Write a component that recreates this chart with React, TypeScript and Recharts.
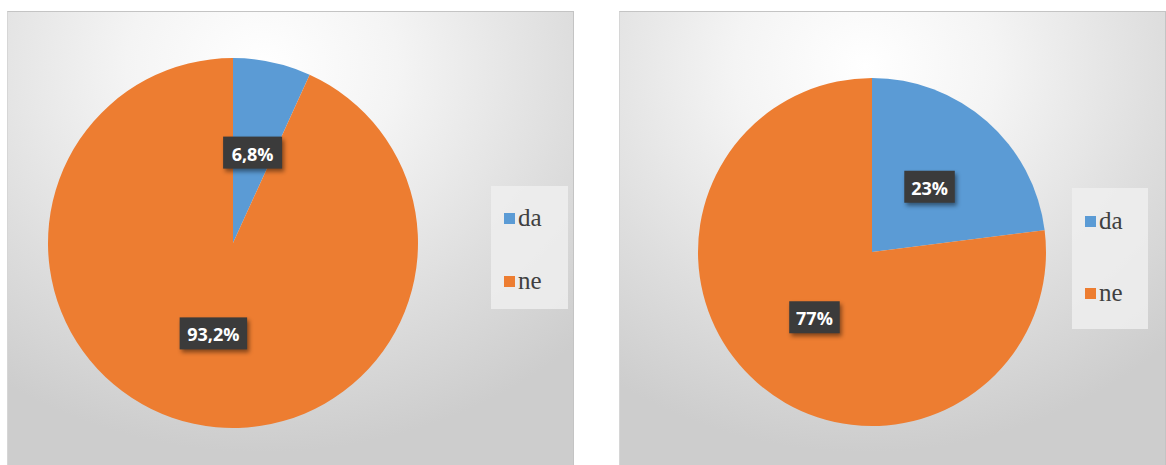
import { PieChart, Pie, Cell, Legend } from "recharts";

const categories = ["da", "ne"];
const leftValues = [6.8, 93.2];
const rightValues = [23, 77];
const colors = ["#5B9BD5", "#ED7D31"];

const leftData = categories.map((name, i) => ({ name, value: leftValues[i] }));
const rightData = categories.map((name, i) => ({ name, value: rightValues[i] }));

const RADIAN = Math.PI / 180;

function fmt(v: number) {
  return String(v).replace(".", ",") + "%";
}

function renderLabel(props: any) {
  const { cx, cy, midAngle, outerRadius, value } = props;
  const r = outerRadius * 0.5;
  const x = cx + r * Math.cos(-midAngle * RADIAN);
  const y = cy + r * Math.sin(-midAngle * RADIAN);
  const text = fmt(value);
  const w = text.length * 8.5 + 25;
  const h = 32;
  return (
    <g>
      <rect
        x={x - w / 2}
        y={y - h / 2}
        width={w}
        height={h}
        fill="#3b3b3b"
        style={{ filter: "drop-shadow(2px 3px 2px rgba(0,0,0,0.45))" }}
      />
      <text
        x={x}
        y={y + 1}
        fill="#ffffff"
        textAnchor="middle"
        dominantBaseline="central"
        fontFamily="'Open Sans', sans-serif"
        fontWeight="bold"
        fontSize={18}
      >
        {text}
      </text>
    </g>
  );
}

function makeLegend(width: number, height: number, top: number, gap: number) {
  return (props: any) => {
    const payload = props.payload || [];
    return (
      <div
        style={{
          width,
          height,
          background: "rgba(238,238,238,0.85)",
          position: "relative",
        }}
      >
        {payload.map((p: any, i: number) => (
          <div
            key={p.value}
            style={{
              position: "absolute",
              left: 13,
              top: top + i * gap - 17,
              display: "flex",
              alignItems: "center",
              fontFamily: "'Liberation Serif', serif",
              fontSize: 25,
              lineHeight: "34px",
              color: "#404040",
            }}
          >
            <span
              style={{
                display: "inline-block",
                width: 11,
                height: 11,
                background: p.color,
                marginRight: 3,
              }}
            />
            <span>{p.value}</span>
          </div>
        ))}
      </div>
    );
  };
}

const panelBg =
  "radial-gradient(ellipse 80% 85% at 45% 12%, #ffffff 0%, #f4f4f4 30%, #dedede 68%, #cdcdcd 100%)";

export default function App() {
  return (
    <div style={{ position: "absolute", left: 0, top: 0, width: 1166, height: 465, background: "#fff" }}>
      <div
        style={{
          position: "absolute",
          left: 7,
          top: 11,
          width: 565,
          height: 454,
          background: panelBg,
          borderTop: "1px solid #c4c4c4",
          borderLeft: "1px solid #d6d6d6",
          borderRight: "1px solid #c4c4c4",
        }}
      >
        <PieChart width={565} height={454}>
          <Pie
            data={leftData}
            dataKey="value"
            nameKey="name"
            cx={220}
            cy={226}
            outerRadius={185}
            startAngle={90}
            endAngle={-270}
            stroke="none"
            label={renderLabel}
            labelLine={false}
            isAnimationActive={false}
          >
            {leftData.map((d, i) => (
              <Cell key={d.name} fill={colors[i]} />
            ))}
          </Pie>
          <Legend
            content={makeLegend(77, 123, 32, 63)}
            wrapperStyle={{ position: "absolute", left: 483, top: 174, width: 77 }}
          />
        </PieChart>
      </div>
      <div
        style={{
          position: "absolute",
          left: 619,
          top: 11,
          width: 545,
          height: 454,
          background: panelBg,
          borderTop: "1px solid #c4c4c4",
          borderLeft: "1px solid #d6d6d6",
          borderRight: "1px solid #c4c4c4",
        }}
      >
        <PieChart width={545} height={454}>
          <Pie
            data={rightData}
            dataKey="value"
            nameKey="name"
            cx={247}
            cy={235}
            outerRadius={174}
            startAngle={90}
            endAngle={-270}
            stroke="none"
            label={renderLabel}
            labelLine={false}
            isAnimationActive={false}
          >
            {rightData.map((d, i) => (
              <Cell key={d.name} fill={colors[i]} />
            ))}
          </Pie>
          <Legend
            content={makeLegend(76, 141, 33, 72)}
            wrapperStyle={{ position: "absolute", left: 452, top: 176, width: 76 }}
          />
        </PieChart>
      </div>
    </div>
  );
}
